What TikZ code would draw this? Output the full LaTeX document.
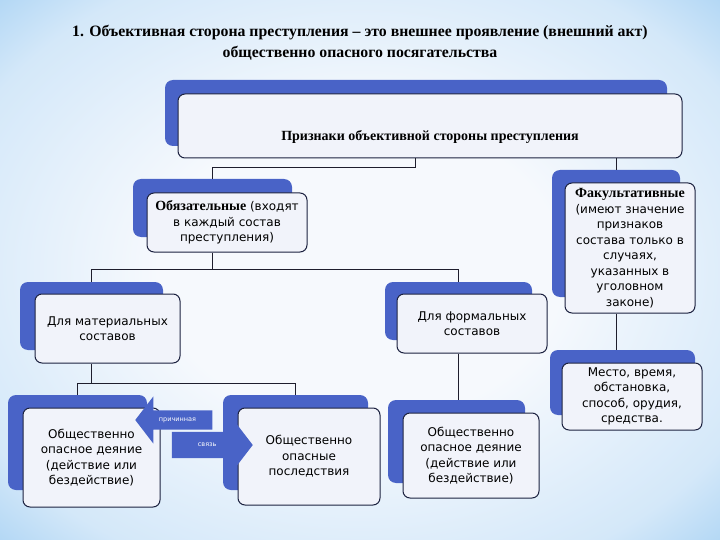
\documentclass[tikz,border=0pt]{standalone}
\usepackage{fontspec}
\setmainfont{Liberation Serif}
\setsansfont{DejaVu Sans}
\usepackage{xcolor}
\definecolor{colorCard}{RGB}{73,99,199}
\definecolor{colorBox}{RGB}{241,243,250}
\definecolor{colorEdge}{RGB}{28,34,64}
\definecolor{colorLine}{RGB}{30,30,45}
\definecolor{colorBgIn}{RGB}{246,249,253}
\definecolor{colorBgMid}{RGB}{212,232,249}
\definecolor{colorBgOut}{RGB}{140,196,240}
\usepackage{tikz}
\usetikzlibrary{shapes.arrows, positioning}
\pgfdeclareradialshading{bgshade}{\pgfpoint{0bp}{0bp}}{color(0bp)=(colorBgIn); color(14bp)=(colorBgIn); color(30bp)=(colorBgMid); color(42bp)=(colorBgOut); color(50bp)=(colorBgOut)}

\begin{document}
\begin{tikzpicture}[x=1pt, y=-1pt,
  card/.style={fill=colorCard, rounded corners=8pt, inner sep=0pt},
  box/.style={draw=colorEdge, line width=1pt, fill=colorBox, rounded corners=7pt, inner sep=0pt, align=center, font=\sffamily\fontsize{12}{15.5}\selectfont},
  conn/.style={draw=colorLine, line width=0.8pt},
  linkarrow/.style={single arrow, fill=colorCard, text=white, single arrow tip angle=105, inner xsep=2pt, text height=5pt, text depth=1.5pt, font=\sffamily\fontsize{6.5}{7}\selectfont}]
\useasboundingbox (0,0) rectangle (720,540);
\fill[shading=bgshade] (0,0) rectangle (720,540);

\node[font=\bfseries\fontsize{15.8}{21}\selectfont, align=center] (title) at (360,42.5) {1. Объективная сторона преступления -- это внешнее проявление (внешний акт)\\ общественно опасного посягательства};

% top level
\node[card, minimum width=502pt, minimum height=66pt] (przcard) at (416,113) {};
\node[box, minimum width=504pt, minimum height=64pt] (prz) at (430,126) {};
\node[font=\bfseries\fontsize{14}{15}\selectfont] (przlabel) at (430,137) {Признаки объективной стороны преступления};

% second level
\node[card, minimum width=159pt, minimum height=58pt] (obcard) at (212.5,208) {};
\node[box, minimum width=160pt, minimum height=59pt] (ob) at (227,222.5) {{\rmfamily\bfseries\fontsize{14}{15.5}\selectfont Обязательные} (входят\\ в каждый состав\\ преступления)};
\node[card, minimum width=128pt, minimum height=127pt] (fakcard) at (616,233.5) {};
\node[box, minimum width=130pt, minimum height=130pt] (fak) at (630,248) {{\rmfamily\bfseries\fontsize{14}{15.5}\selectfont Факультативные}\\ (имеют значение\\ признаков\\ состава только в\\ случаях,\\ указанных в\\ уголовном\\ законе)};

% third level
\node[card, minimum width=143pt, minimum height=68pt] (matcard) at (91.5,316) {};
\node[box, minimum width=145pt, minimum height=69pt] (mat) at (107.5,328.5) {Для материальных\\ составов};
\node[card, minimum width=147pt, minimum height=58pt] (formcard) at (458.5,311) {};
\node[box, minimum width=150pt, minimum height=59pt] (form) at (472,323.5) {Для формальных\\ составов};
\node[card, minimum width=145pt, minimum height=65pt] (mestocard) at (622.5,382.5) {};
\node[box, minimum width=140pt, minimum height=67pt] (mesto) at (632,396.5) {Место, время,\\ обстановка,\\ способ, орудия,\\ средства.};

% bottom level
\node[card, minimum width=139pt, minimum height=95pt] (dey1card) at (77.5,442.5) {};
\node[box, minimum width=137pt, minimum height=99pt] (dey1) at (91.5,457.5) {Общественно\\ опасное деяние\\ (действие или\\ бездействие)};
\node[card, minimum width=145pt, minimum height=95pt] (poslcard) at (295.5,442.5) {};
\node[box, minimum width=142pt, minimum height=97pt] (posl) at (309,456.5) {Общественно\\ опасные\\ последствия};
\node[card, minimum width=137pt, minimum height=83pt] (dey2card) at (456.5,441.5) {};
\node[box, minimum width=136pt, minimum height=85pt] (dey2) at (471,455.5) {Общественно\\ опасное деяние\\ (действие или\\ бездействие)};

% connectors
\draw[conn] ([xshift=-15pt]prz.south) -- ++(0,9) -| (obcard.north);
\draw[conn] (fakcard.north) -- (fakcard.north |- prz.south);
\draw[conn] (obcard.north |- ob.south) -- ++(0,17) coordinate (obj);
\draw[conn] (matcard.north) |- (obj) -| (formcard.north);
\draw[conn] (fak.south -| fakcard.south) -- (fakcard.south |- mestocard.north);
\draw[conn] (matcard.south |- mat.south) -- ++(0,20) coordinate (matj);
\draw[conn] (dey1card.north) |- (matj) -| (poslcard.north);
\draw[conn] (formcard.south |- form.south) -- (formcard.south |- dey2card.north);

% causal link
\node[linkarrow, shape border rotate=180, minimum height=77pt, minimum width=47pt, single arrow head extend=14pt, inner ysep=6.25pt, anchor=tip] (prich) at (135,420) {причинная};
\node[linkarrow, minimum height=81pt, minimum width=55pt, single arrow head extend=14.5pt, inner ysep=9.75pt, anchor=tip] (svyaz) at (253,445) {связь};
\end{tikzpicture}
\end{document}
